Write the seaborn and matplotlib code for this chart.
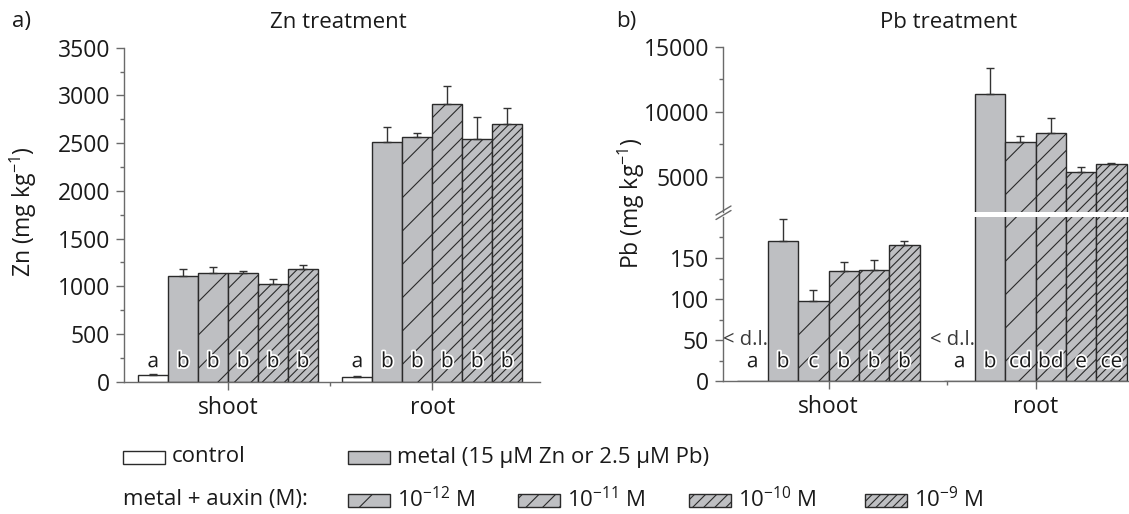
import numpy as np
import pandas as pd
import matplotlib
matplotlib.use("Agg")
import matplotlib.pyplot as plt
import seaborn as sns
from matplotlib.patches import Rectangle
from matplotlib.lines import Line2D
from matplotlib.container import BarContainer
import matplotlib.patheffects as pe

# ---------------- data ----------------
tissues = ["shoot", "root"]
treatments = ["control", "metal", "1e-12", "1e-11", "1e-10", "1e-9"]

zn_shoot = [70, 1107, 1142, 1142, 1020, 1184]
zn_shoot_sd = [8, 77, 56, 18, 52, 35]
zn_root = [52, 2511, 2564, 2906, 2539, 2700]
zn_root_sd = [11, 161, 38, 195, 234, 168]

pb_shoot = [0, 171, 98, 134.5, 135.3, 165.5]
pb_shoot_sd = [0, 27, 12.7, 10.2, 12.3, 4.9]
pb_root = [0, 11333, 7692, 8385, 5385, 5974]
pb_root_sd = [0, 2000, 462, 1102, 384, 129]

zn_letters = [["a", "b", "b", "b", "b", "b"], ["a", "b", "b", "b", "b", "b"]]
pb_letters = [["a", "b", "c", "b", "b", "b"], ["a", "b", "cd", "bd", "e", "ce"]]

zn_yticks = [0, 500, 1000, 1500, 2000, 2500, 3000, 3500]
pb_low_yticks = [0, 50, 100, 150]
pb_high_yticks = [5000, 10000, 15000]

legend_row1 = ["control", "metal (15 µM Zn or 2.5 µM Pb)"]
legend_row2_title = "metal + auxin (M):"
legend_row2 = ["10$^{-12}$ M", "10$^{-11}$ M", "10$^{-10}$ M", "10$^{-9}$ M"]

# ---------------- style ----------------
sns.set_style("ticks")
FONT = "Open Sans"
plt.rcParams["font.family"] = [FONT, "DejaVu Sans"]
plt.rcParams["mathtext.fontset"] = "custom"
plt.rcParams["mathtext.rm"] = FONT
plt.rcParams["mathtext.it"] = FONT
plt.rcParams["mathtext.default"] = "regular"
plt.rcParams["hatch.linewidth"] = 0.8

GRAY = "#bebfc2"
EDGE = "#2a2a2a"
SPINE = "#6a6a6a"
TXT = "#1a1a1a"
colors = ["white", GRAY, GRAY, GRAY, GRAY, GRAY]
hatches = ["", "", "/", "//", "///", "////"]
FS_TICK = 16.5
FS_LAB = 16.5
FS_TITLE = 16
FS_LEG = 16
FS_LET = 15

W, H = 1129, 514
fig = plt.figure(figsize=(W / 100, H / 100), dpi=100)


def fx(px):
    return px / W


def fy(py):
    return 1 - py / H


def make_df(shoot, shoot_sd, root, root_sd):
    rows = []
    for t, vals, sds in [("shoot", shoot, shoot_sd), ("root", root, root_sd)]:
        for tr, v, s in zip(treatments, vals, sds):
            rows.append({"tissue": t, "treatment": tr, "value": v, "sd": s})
    return pd.DataFrame(rows)


zn_df = make_df(zn_shoot, zn_shoot_sd, zn_root, zn_root_sd)
pb_df = make_df(pb_shoot, pb_shoot_sd, pb_root, pb_root_sd)

XLIM = (-0.51, 1.525)


def bar_containers(ax):
    return [c for c in ax.containers if isinstance(c, BarContainer)]


def draw_bars(ax, df):
    sns.barplot(data=df, x="tissue", y="value", hue="treatment", order=tissues,
                hue_order=treatments, palette=colors, saturation=1, width=0.88,
                gap=0, errorbar=None, edgecolor=EDGE, linewidth=1.0,
                legend=False, ax=ax)
    for cont, h in zip(bar_containers(ax), hatches):
        for bar in cont:
            bar.set_hatch(h)
    ax.set_xlim(*XLIM)
    ax.set_xlabel("")
    ax.set_ylabel("")


def bar_info(ax):
    info = {}
    for j, cont in enumerate(bar_containers(ax)):
        for i, bar in enumerate(cont):
            info[(i, j)] = (bar.get_x() + bar.get_width() / 2, bar.get_height())
    return info


def style_axis(ax, bottom=True, minor_x=0.5):
    sns.despine(ax=ax)
    for s in ["left", "bottom"]:
        ax.spines[s].set_color(SPINE)
        ax.spines[s].set_linewidth(1.0)
    ax.tick_params(axis="both", which="major", direction="out", length=6, width=1,
                   color=SPINE, labelsize=FS_TICK, labelcolor=TXT, pad=4)
    ax.tick_params(axis="both", which="minor", direction="out", length=3, width=1,
                   color=SPINE)
    if bottom:
        ax.set_xticks([0, 1])
        ax.set_xticklabels(tissues)
        ax.set_xticks([minor_x], minor=True)


def letters(ax, lets, yval):
    info = bar_info(ax)
    for i in range(2):
        for j in range(6):
            x, _ = info[(i, j)]
            ax.text(x, yval, lets[i][j], ha="center", va="center", fontsize=FS_LET,
                    color=TXT, zorder=4,
                    path_effects=[pe.withStroke(linewidth=2.5, foreground="white")])


def draw_err(df, axes_by_limit):
    info = bar_info(axes_by_limit[0][0])
    for i, t in enumerate(tissues):
        for j, tr in enumerate(treatments):
            row = df[(df.tissue == t) & (df.treatment == tr)].iloc[0]
            if row.sd <= 0:
                continue
            x, y = info[(i, j)]
            tgt = axes_by_limit[0][0]
            for a, lim in axes_by_limit:
                if y <= lim:
                    tgt = a
                    break
            tgt.errorbar([x], [y], yerr=[[0], [row.sd]], fmt="none", ecolor="#333333",
                         elinewidth=1.0, capsize=2.6, capthick=1.0, zorder=3)


# ---------------- panel a ----------------
axA = fig.add_axes([fx(124), fy(381.7), fx(539.5) - fx(124), fy(47.7) - fy(381.7)])
draw_bars(axA, zn_df)
axA.set_ylim(0, 3500)
axA.set_yticks(zn_yticks)
axA.set_yticks(np.arange(250, 3500, 500), minor=True)
style_axis(axA)
letters(axA, zn_letters, 210)
draw_err(zn_df, [(axA, 1e9)])

# ---------------- panel b (broken axis) ----------------
bx0, bx1 = 723, 723 + (XLIM[1] - XLIM[0]) * 207
axBt = fig.add_axes([fx(bx0), fy(212), fx(bx1) - fx(bx0), fy(46.7) - fy(212)])
axBb = fig.add_axes([fx(bx0), fy(381), fx(bx1) - fx(bx0), fy(217) - fy(381)])
draw_bars(axBt, pb_df)
draw_bars(axBb, pb_df)
axBt.set_ylim(2300, 15000)
axBt.set_yticks(pb_high_yticks)
axBt.set_yticks([7500, 12500], minor=True)
axBb.set_ylim(0, 200)
axBb.set_yticks(pb_low_yticks)
axBb.set_yticks([25, 75, 125, 175], minor=True)
style_axis(axBt, bottom=False)
axBt.spines["bottom"].set_visible(False)
axBt.tick_params(axis="x", which="both", bottom=False, labelbottom=False)
style_axis(axBb, minor_x=0.57)

letters(axBb, pb_letters, 23.5)
info_b = bar_info(axBb)
for i in range(2):
    x, _ = info_b[(i, 0)]
    axBb.text(x - 0.035, 50, "< d.l.", ha="center", va="center", fontsize=14.5,
              color="#3a3a3a")
draw_err(pb_df, [(axBb, 200), (axBt, 1e9)])

# break marks on the spine
for dy in (0, 4.5):
    fig.add_artist(Line2D([fx(716), fx(731)], [fy(215 + dy), fy(206 + dy)],
                          color=SPINE, lw=1.0))

# ---------------- titles and labels ----------------
fig.text(fx(12), fy(22), "a)", fontsize=FS_TITLE, color=TXT, ha="left", va="center")
fig.text(fx(616), fy(22), "b)", fontsize=FS_TITLE, color=TXT, ha="left", va="center")
fig.text(fx(338), fy(22), "Zn treatment", fontsize=FS_TITLE, color=TXT, ha="center", va="center")
fig.text(fx(949), fy(22), "Pb treatment", fontsize=FS_TITLE, color=TXT, ha="center", va="center")
fig.text(fx(23), fy(212), "Zn (mg kg$^{-1}$)", fontsize=FS_LAB, color=TXT, rotation=90,
         ha="center", va="center")
fig.text(fx(631), fy(203), "Pb (mg kg$^{-1}$)", fontsize=FS_LAB, color=TXT, rotation=90,
         ha="center", va="center")

# ---------------- legend ----------------
BOXW, BOXH = 42, 13


def leg_item(x, y, fc, hatch, label):
    r = Rectangle((fx(x), fy(y + BOXH / 2)), fx(BOXW), BOXH / H, transform=fig.transFigure,
                  facecolor=fc, edgecolor=EDGE, linewidth=1.0, hatch=hatch)
    fig.add_artist(r)
    fig.text(fx(x + BOXW + 7), fy(y), label, fontsize=FS_LEG, color=TXT, ha="left", va="center")


ROW1, ROW2 = 457, 500
leg_item(123, ROW1, colors[0], hatches[0], legend_row1[0])
leg_item(348, ROW1, colors[1], hatches[1], legend_row1[1])
fig.text(fx(123), fy(ROW2), legend_row2_title, fontsize=FS_LEG, color=TXT, ha="left", va="center")
for xpos, k, lab in zip([348, 518, 689, 865], range(2, 6), legend_row2):
    leg_item(xpos, ROW2, colors[k], hatches[k], lab)

fig.savefig("out.png", dpi=100)
